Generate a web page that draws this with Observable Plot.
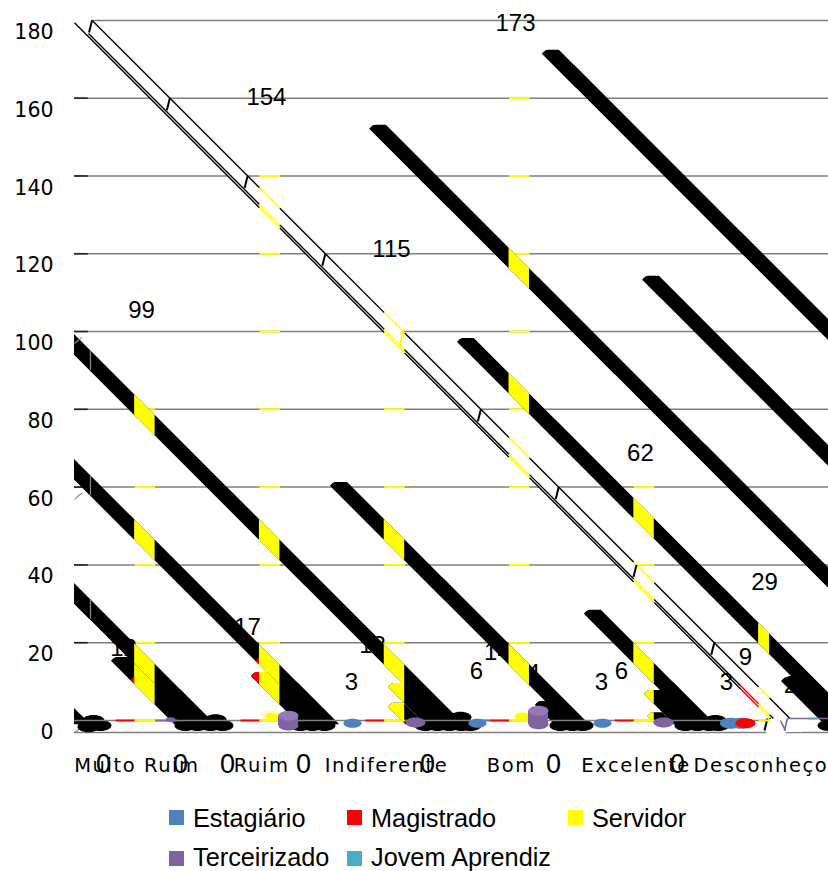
<!DOCTYPE html>
<html>
<head>
<meta charset="utf-8">
<script src="https://cdn.jsdelivr.net/npm/d3@7"></script>
<script src="https://cdn.jsdelivr.net/npm/@observablehq/plot@0.6"></script>
<style>
html,body{margin:0;padding:0;background:#fff}
#wrap{position:relative;width:828px;height:871px;overflow:hidden}
g[aria-label="x-axis tick label"] text{letter-spacing:1.55px}
.lg{position:absolute;font:25.3px "Liberation Sans",Arial,sans-serif;line-height:24px;white-space:nowrap;color:#000}
.sw{position:absolute;width:15px;height:15px}
</style>
</head>
<body>
<div id="wrap"></div>
<script>
// ---- categories and value ticks
const categories = ["Muito Ruim","Ruim","Indiferente","Bom","Excelente","Desconheço"];
const gridValues = [0,20,40,60,80,100,120,140,160,180];
const seriesNames = ["Estagiário","Magistrado","Servidor","Terceirizado","Jovem Aprendiz"];
const seriesColors = ["#4F81BD","#FF0000","#FFFF00","#8064A2","#4BACC6"];

// ---- data labels as printed on the chart
const labelText = ["173","154","115","99","62","29","9","3","6","3","6","3","17","12","13","14","4","2","1","2"];
const labelCat  = [3.534,1.538,2.540,.537,4.535,5.529,5.377,2.220,3.221,4.223,4.383,5.224,1.386,.393,2.388,3.389,3.678,.665,1.643,5.737];
const labelVal  = [182.3,163.3,124.2,108.5,71.7,38.6,19.3,12.9,15.7,12.9,15.7,12.9,27.0,21.6,22.4,20.6,15.2,11.3,11.3,12.1];
const zeroCat   = [.232,.849,1.226,1.835,2.829,3.838,4.832];

// ---- slanted bars: intercept of upper edge, intercept of lower edge, head value, Servidor categories
const stripeUpper = [300.1,236.3,204.1,267.7,134.5,166.9,102.3,70.2,38.3,33.2,65.1,97.5,92.3,161.7,156.3,129.3,199.0,6.2];
const stripeLower = [294.7,231.0,198.8,262.4,129.1,161.5,97.0,64.9,33.0,27.8,59.9,92.3,87.2,156.3,151.5,125.5,194.9,-0.5];
const stripeHead  = [175.4,156.1,101.3,117.3,64.3,31.4,null,null,null,19.3,15.4,12.6,7.5,10.8,5.1,8.0,14.1,null];
const stripeServ  = [[],[3],[3,4,5],[],[2,3],[4],[0,1,2],[0,1],[0],[0],[1],[2],[2],[4],[4],[],[],[]];

// ---- Servidor traces seen on the back wall, per category
const servidorWall = [[0,20,40,60,80],[0,20,40,60,80,100,120,140],[0,20,40,60,80],[0,20,40,60,80,100,120,140,160],[0,20,40,60],[0]];

// ---- flattened zero-height bars at the floor
const blackCat = [.152,.208,.112,.889,.986,1.090,1.186,1.130,1.811,1.907,2.003,2.812,2.909,3.005,3.101,3.173,3.093,3.894,3.990,4.071,4.896,4.992,5.088,5.160,5.136,6.042];
const blackVal = [3.1,1.8,1.5,1.8,1.8,1.8,1.8,3.3,1.8,1.8,1.8,1.8,1.8,1.8,1.8,1.8,3.9,1.8,1.8,1.8,1.8,1.8,1.8,1.8,3.1,1.8];
const purpleCat = [2.732,4.72];
const purpleVal = [2.6,2.6];
const blueCat = [2.228,3.229,4.231];
const blueVal = [2.4,2.4,2.4];
const cylCat = [1.715,3.718];
const cylLow = [1.8,2.1];
const cylTop = [4.3,5.6];

// ---- scale helpers
const XMAX = 6.042, YMAX = 188.2, BACK = 3.09, SLOPE = 32.09, WALLX = .128;
const band = i => [i + .482, Math.min(i + .646, 5.57)];
const FLOOR = 2;

const flat = {draw(c, size){
  const rx = Math.sqrt(size/Math.PI), ry = rx*.5, kx = rx*.5523, ky = ry*.5523;
  c.moveTo(-rx,0);
  c.bezierCurveTo(-rx,-ky,-kx,-ry,0,-ry);
  c.bezierCurveTo(kx,-ry,rx,-ky,rx,0);
  c.bezierCurveTo(rx,ky,kx,ry,0,ry);
  c.bezierCurveTo(-kx,ry,-rx,ky,-rx,0);
  c.closePath();
}};

function stripeShape(iu, il, h){
  const tip = h == null ? 0 : Math.max(0, (il - h + 1)/SLOPE);
  const end = Math.min(XMAX, (iu - FLOOR)/SLOPE);
  const top = x => {
    const edge = iu - SLOPE*x;
    if (h == null) return edge;
    const t = (x - tip)/.048;
    return Math.min(edge, h - (t < 1 ? 1.03*(1 - t)*(1 - t) : 0));
  };
  const bot = x => Math.max(il - SLOPE*x, FLOOR);
  return {tip, end, top, bot};
}
function stripeArea(iu, il, h, a, b, fill){
  const s = stripeShape(iu, il, h);
  const x0 = Math.max(a, s.tip), x1 = Math.min(b, s.end);
  if (x1 <= x0) return [];
  const xs = d3.range(x0, x1, .004).concat([x1]);
  return [Plot.areaY(xs, {x:d=>d, y1:d=>s.bot(d), y2:d=>s.top(d), fill})];
}

const stripeMarks = stripeUpper.flatMap((iu,i)=>{
  const il = stripeLower[i], h = stripeHead[i];
  return [
    ...stripeArea(iu, il, h, 0, XMAX, "#000"),
    ...stripeServ[i].flatMap(b=>{const [a,c]=band(b);return stripeArea(iu,il,h,a,c,seriesColors[2]);})
  ];
});
const redMarks = [
  ...stripeArea(65.1,59.9,15.4,1.30,1.482,seriesColors[1]),
  ...stripeArea(70.2,65.06,19.3,1.30,1.482,seriesColors[1]),
  ...stripeArea(33,28.0,14.4,.30,.482,seriesColors[1])
];

// the empty outlined bar running across the plot
function outline(i0, x0, x1, withRed){
  const cuts = [x0];
  for (let b=1;b<=5;b++){ const [a,c]=band(b); cuts.push(a,c); if(b===5 && withRed) cuts.push(a-.144); }
  cuts.push(x1);
  const xs = Array.from(new Set(cuts)).filter(d=>d>=x0&&d<=x1).sort((a,b)=>a-b);
  const segs = [];
  for (let j=0;j<xs.length-1;j++){
    const m = (xs[j]+xs[j+1])/2;
    let col = "#000";
    for (let b=1;b<=5;b++){const [a,c]=band(b); if(m>a&&m<c) col=seriesColors[2];}
    if (withRed && m>5.338 && m<5.482) col = seriesColors[1];
    segs.push({x1:xs[j],x2:xs[j+1],y1:i0-SLOPE*xs[j],y2:i0-SLOPE*xs[j+1],col});
  }
  return Plot.link(segs,{x1:"x1",x2:"x2",y1:"y1",y2:"y2",stroke:"col",strokeWidth:1.4});
}
const wallTicks = gridValues.slice(1).map(v=>({x:(187.6-(v+BACK))/SLOPE,v:v+BACK,col:v===100?seriesColors[2]:"#000"}));

const dashes = [
  ...[0,1,2,3,4].map(i=>({a:i+.33,b:i+.482,c:seriesColors[1]})),
  {a:.646,b:.82,c:seriesColors[3]},
  {a:3.245,b:3.33,c:seriesColors[0]}
];
const servDash = servidorWall.flatMap((vs,i)=>vs.map(v=>({a:band(i)[0],b:band(i)[1],v})));

const plot = Plot.plot({
  width:828, height:790,
  marginLeft:74, marginRight:0, marginTop:0, marginBottom:58,
  x:{domain:[0,XMAX]},
  y:{domain:[0,YMAX]},
  style:{background:"#fff",overflow:"visible"},
  marks:[
    // walls
    Plot.ruleY(gridValues.filter(v=>v>0&&v<180),{y:d=>d+BACK,x1:0,x2:XMAX,stroke:"#7f7f7f",strokeWidth:1.5}),
    Plot.ruleY([180],{y:d=>d+BACK,x1:.14,x2:XMAX,stroke:"#7f7f7f",strokeWidth:1.5}),
    Plot.ruleY(gridValues.filter(v=>v>0&&v<180),{y:d=>d+BACK,x1:0,x2:.11,stroke:"#222",strokeWidth:1.6}),
    Plot.ruleY([0],{x1:0,x2:5.545,stroke:"#7f7f7f",strokeWidth:1.6}),
    Plot.ruleY([0],{x1:5.705,x2:XMAX,stroke:"#7f7f7f",strokeWidth:1.6}),
    Plot.link(servDash,{x1:"a",x2:"b",y1:d=>d.v+BACK,y2:d=>d.v+BACK,stroke:seriesColors[2],strokeWidth:2}),
    // blank band behind the outlined bar
    Plot.areaY(d3.range(0,5.85,.01),{x:d=>d,
      y1:d=>Math.max(182.5-SLOPE*d,BACK-3.09),
      y2:d=>Math.max(Math.min(183.1,187.6-SLOPE*d),BACK-3.09),fill:"#fff"}),
    // labels
    Plot.text(labelText,{x:(d,i)=>labelCat[i],y:(d,i)=>labelVal[i],text:d=>d,fontSize:24,fontFamily:"Liberation Sans",fill:"#000"}),
    Plot.text(zeroCat,{x:d=>d,y:-8.3,text:()=>"0",fontSize:27,fontFamily:"Liberation Sans",fill:"#000"}),
    // slanted bars
    ...stripeMarks,
    ...redMarks,
    // side wall traces over the black bars
    Plot.link([100,60],{x1:.06,x2:0,y1:d=>d+BACK-1.5,y2:d=>d,stroke:"#8a8a8a",strokeWidth:1.2}),
    Plot.link([0],{x1:WALLX,x2:0,y1:BACK,y2:0,stroke:"#8a8a8a",strokeWidth:1.2}),
    Plot.ruleX([0],{x:WALLX,y1:98.2,y2:93.1,stroke:"#8a8a8a",strokeWidth:1.2}),
    Plot.ruleX([0],{x:WALLX,y1:66.1,y2:60.9,stroke:"#8a8a8a",strokeWidth:1.2}),
    Plot.ruleX([0],{x:WALLX,y1:34.2,y2:29.1,stroke:"#8a8a8a",strokeWidth:1.2}),
    // outlined bar
    outline(187.6,.142,5.735,false),
    outline(183.3,.112,5.6,true),
    outline(182.5,0,5.577,true),
    Plot.link(wallTicks,{x1:"x",x2:d=>d.x-.024,y1:"v",y2:d=>d.v-3.09,stroke:"col",strokeWidth:2}),
    Plot.link([0],{x1:5.553,x2:5.529,y1:3.6,y2:.5,stroke:"#000",strokeWidth:2}),
    // floor of the last category
    Plot.link([0],{x1:5.713,x2:XMAX,y1:3.6,y2:3.6,stroke:seriesColors[3],strokeWidth:1.6}),
    Plot.link([0],{x1:5.873,x2:5.954,y1:3.6,y2:3.6,stroke:seriesColors[4],strokeWidth:2}),
    Plot.link([0],{x1:5.713,x2:5.689,y1:3.6,y2:.5,stroke:seriesColors[3],strokeWidth:1.6}),
    Plot.link([0],{x1:5.657,x2:5.697,y1:3.09,y2:.5,stroke:seriesColors[3],strokeWidth:1.6}),
    // floor bars
    Plot.dot(blackCat,{x:d=>d,y:(d,i)=>blackVal[i],r:11,fill:"#000",symbol:flat}),
    Plot.ruleY([0],{y:BACK,x1:0,x2:5.57,stroke:"#7f7f7f",strokeWidth:1.5}),
    Plot.link(dashes,{x1:"a",x2:"b",y1:BACK,y2:BACK,stroke:"c",strokeWidth:2}),
    Plot.link(servDash.filter(d=>d.v===0),{x1:"a",x2:"b",y1:BACK,y2:BACK,stroke:seriesColors[2],strokeWidth:2}),
    Plot.dot([1.587,3.59],{x:d=>d,y:4.1,r:8,fill:seriesColors[2],symbol:flat}),
    Plot.dot(purpleCat,{x:d=>d,y:(d,i)=>purpleVal[i],r:10,fill:seriesColors[3],symbol:flat}),
    Plot.dot([.769],{x:d=>d,y:3.3,r:5,fill:seriesColors[3],symbol:flat}),
    Plot.dot(blueCat,{x:d=>d,y:(d,i)=>blueVal[i],r:9,fill:seriesColors[0],symbol:flat}),
    Plot.dot([5.26,5.34],{x:d=>d,y:2.4,r:11,fill:seriesColors[0],symbol:flat}),
    Plot.dot([5.377],{x:d=>d,y:2.4,r:10,fill:seriesColors[1],symbol:flat}),
    Plot.dot(cylCat,{x:d=>d,y:(d,i)=>cylLow[i],r:10,fill:seriesColors[3],symbol:flat}),
    Plot.rectY(cylCat,{x1:d=>d-.08,x2:d=>d+.08,y1:(d,i)=>cylLow[i],y2:(d,i)=>cylTop[i],fill:seriesColors[3]}),
    Plot.dot(cylCat,{x:d=>d,y:(d,i)=>cylTop[i],r:10,fill:"#9478b8",symbol:flat}),
    // axes
    Plot.axisY({ticks:gridValues,tickSize:0,tickPadding:21,fontSize:20.5,fontFamily:"DejaVu Sans",label:null,fill:"#000"}),
    Plot.axisX({ticks:categories.map((d,i)=>i+.5),tickFormat:d=>categories[Math.floor(d)],tickSize:0,tickPadding:26,fontSize:19.5,fontFamily:"DejaVu Sans",label:null,fill:"#000"})
  ]
});
const wrap = document.getElementById("wrap");
wrap.appendChild(plot);

// legend below the chart
const legendCols = [169,347,568];
const legendRows = [818,859];
[[0,0,0],[1,1,0],[2,2,0],[3,0,1],[4,1,1]].forEach(([s,c,r])=>{
  const sw = document.createElement("div");
  sw.className = "sw";
  sw.style.left = legendCols[c]+"px";
  sw.style.top = (legendRows[r]-8)+"px";
  sw.style.background = seriesColors[s];
  wrap.appendChild(sw);
  const t = document.createElement("div");
  t.className = "lg";
  t.textContent = seriesNames[s];
  t.style.left = (legendCols[c]+24)+"px";
  t.style.top = (legendRows[r]-12-(r?2.4:0))+"px";
  wrap.appendChild(t);
});
</script>
</body>
</html>
